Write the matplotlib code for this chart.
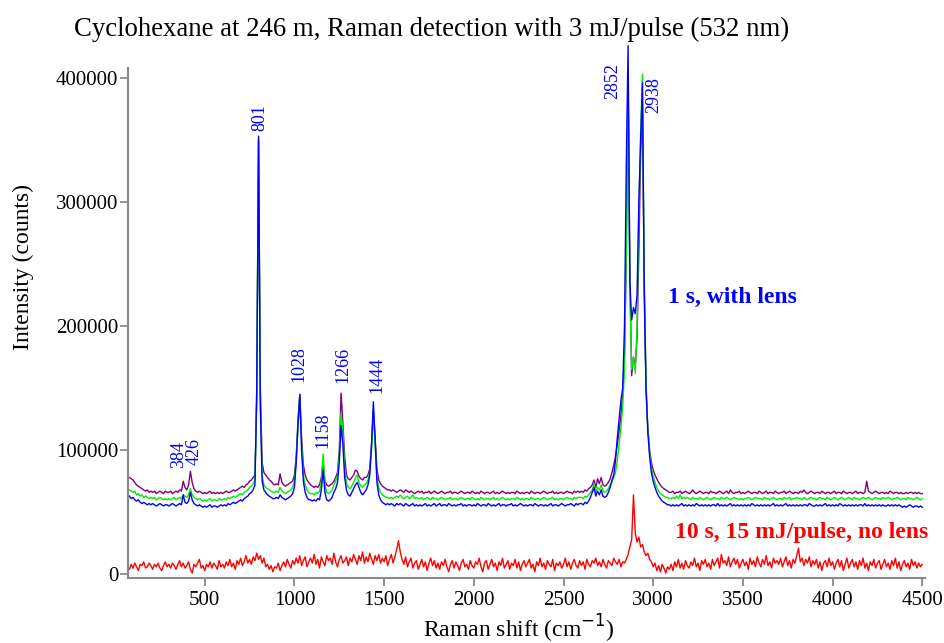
import matplotlib
matplotlib.use("Agg")
import matplotlib.pyplot as plt

plt.rcParams['font.family'] = ['Liberation Serif', 'DejaVu Serif']

# spectra in thousands of counts, rows keyed by start shift (cm-1), 10 cm-1 step
purple_rows = {
    80: [78, 77],
    100: [76, 74, 72, 71, 70, 69, 68, 67, 68, 66],
    200: [67, 66, 67, 65, 66, 67, 66, 65, 67, 66],
    300: [66, 67, 65, 66, 67, 66, 68, 67, 75, 70],
    400: [68, 72, 83, 74, 69, 67, 66, 67, 66, 65],
    500: [66, 65, 66, 67, 65, 66, 65, 66, 65, 66],
    600: [65, 66, 67, 66, 66, 67, 68, 67, 68, 69],
    700: [70, 71, 70, 72, 73, 75, 76, 78, 80, 140],
    800: [350, 150, 90, 82, 80, 78, 76, 75, 73, 72],
    900: [73, 72, 81, 74, 72, 71, 72, 73, 74, 75],
    1000: [80, 95, 125, 145, 110, 88, 80, 76, 74, 72],
    1100: [71, 70, 71, 70, 72, 78, 91, 75, 72, 71],
    1200: [72, 73, 75, 78, 82, 100, 146, 122, 95, 80],
    1300: [77, 76, 78, 80, 84, 83, 79, 77, 76, 78],
    1400: [78, 80, 85, 105, 132, 110, 85, 76, 73, 71],
    1500: [70, 69, 68, 68, 67, 68, 67, 66, 67, 68],
    1600: [67, 66, 68, 67, 66, 67, 66, 65, 66, 67],
    1700: [66, 67, 65, 66, 66, 67, 65, 66, 67, 66],
    1800: [65, 66, 67, 66, 65, 66, 66, 67, 65, 66],
    1900: [66, 65, 66, 67, 66, 65, 66, 66, 65, 67],
    2000: [66, 65, 66, 65, 67, 66, 65, 66, 66, 65],
    2100: [66, 67, 65, 66, 65, 66, 67, 66, 65, 66],
    2200: [65, 66, 66, 65, 67, 66, 65, 66, 65, 66],
    2300: [66, 65, 67, 66, 65, 66, 66, 65, 66, 67],
    2400: [66, 65, 66, 66, 67, 65, 66, 65, 66, 66],
    2500: [65, 66, 67, 66, 66, 65, 67, 66, 67, 66],
    2600: [67, 66, 68, 67, 69, 70, 72, 76, 70, 77],
    2700: [73, 78, 72, 71, 72, 74, 77, 82, 88, 95],
    2800: [105, 115, 128, 145, 175, 260, 400, 240, 160, 175],
    2900: [168, 190, 260, 340, 379, 230, 150, 118, 100, 90],
    3000: [84, 80, 77, 74, 72, 70, 69, 68, 67, 66],
    3100: [66, 67, 65, 66, 66, 67, 65, 66, 67, 66],
    3200: [65, 66, 68, 66, 65, 66, 67, 66, 65, 66],
    3300: [66, 65, 67, 66, 66, 65, 66, 67, 66, 65],
    3400: [66, 67, 65, 68, 66, 65, 66, 66, 67, 65],
    3500: [66, 65, 66, 67, 66, 65, 66, 66, 65, 67],
    3600: [66, 65, 66, 67, 65, 66, 66, 65, 67, 66],
    3700: [65, 66, 66, 67, 65, 66, 67, 66, 65, 66],
    3800: [66, 65, 67, 66, 68, 66, 65, 66, 67, 66],
    3900: [65, 66, 66, 65, 67, 66, 65, 66, 66, 65],
    4000: [66, 67, 65, 66, 66, 65, 67, 66, 65, 66],
    4100: [66, 65, 66, 67, 65, 66, 66, 65, 66, 75],
    4200: [67, 66, 65, 66, 67, 66, 65, 66, 66, 65],
    4300: [66, 65, 67, 66, 65, 66, 66, 65, 66, 65],
    4400: [65, 66, 65, 66, 66, 65, 66, 65, 66, 65, 65],
}

green_rows = {
    80: [68, 67],
    100: [66, 67, 64, 65, 63, 64, 62, 63, 62, 61],
    200: [62, 61, 62, 60, 61, 62, 61, 60, 61, 60],
    300: [61, 60, 61, 62, 60, 61, 62, 61, 64, 63],
    400: [62, 64, 69, 64, 62, 61, 60, 61, 60, 59],
    500: [60, 59, 60, 61, 59, 60, 60, 59, 61, 60],
    600: [60, 61, 60, 62, 61, 62, 63, 62, 63, 64],
    700: [65, 64, 66, 67, 68, 70, 71, 73, 76, 150],
    800: [352, 140, 80, 72, 70, 69, 68, 67, 66, 66],
    900: [67, 66, 70, 67, 66, 65, 66, 67, 68, 70],
    1000: [75, 92, 120, 142, 105, 80, 72, 68, 66, 65],
    1100: [65, 64, 66, 65, 67, 75, 97, 72, 66, 65],
    1200: [66, 68, 72, 75, 80, 95, 130, 115, 85, 74],
    1300: [70, 69, 71, 74, 78, 80, 74, 71, 70, 72],
    1400: [73, 76, 82, 100, 130, 105, 78, 70, 66, 64],
    1500: [63, 62, 62, 61, 62, 61, 62, 63, 62, 64],
    1600: [62, 61, 62, 63, 61, 62, 64, 61, 62, 61],
    1700: [61, 62, 60, 61, 62, 61, 60, 62, 61, 61],
    1800: [60, 61, 62, 61, 60, 61, 61, 62, 60, 61],
    1900: [61, 60, 61, 62, 61, 60, 61, 61, 60, 62],
    2000: [61, 60, 61, 60, 62, 61, 60, 61, 61, 60],
    2100: [61, 62, 60, 61, 60, 61, 62, 61, 60, 61],
    2200: [60, 61, 61, 60, 62, 61, 60, 61, 60, 61],
    2300: [61, 60, 62, 61, 60, 61, 61, 60, 61, 62],
    2400: [61, 60, 61, 61, 62, 60, 61, 60, 61, 61],
    2500: [60, 61, 62, 61, 61, 60, 62, 61, 62, 62],
    2600: [62, 61, 63, 62, 64, 66, 68, 73, 66, 70],
    2700: [68, 72, 67, 66, 67, 69, 72, 74, 78, 82],
    2800: [92, 105, 118, 135, 165, 260, 406, 230, 165, 175],
    2900: [162, 200, 290, 356, 403, 240, 155, 118, 98, 86],
    3000: [79, 74, 70, 67, 65, 64, 63, 62, 62, 61],
    3100: [61, 62, 61, 63, 61, 64, 61, 62, 61, 62],
    3200: [61, 60, 62, 61, 61, 60, 62, 61, 60, 61],
    3300: [62, 61, 60, 61, 62, 61, 61, 60, 62, 61],
    3400: [61, 62, 61, 60, 61, 62, 61, 61, 60, 61],
    3500: [60, 61, 61, 62, 61, 60, 61, 62, 61, 61],
    3600: [61, 60, 62, 61, 61, 60, 61, 62, 61, 60],
    3700: [61, 61, 60, 62, 61, 61, 62, 60, 61, 61],
    3800: [62, 61, 61, 60, 62, 61, 60, 61, 62, 61],
    3900: [61, 60, 61, 62, 61, 61, 60, 62, 61, 60],
    4000: [61, 62, 61, 60, 61, 62, 61, 60, 61, 62],
    4100: [61, 60, 62, 61, 61, 60, 61, 62, 61, 61],
    4200: [62, 61, 60, 61, 62, 61, 61, 60, 62, 61],
    4300: [61, 62, 61, 60, 61, 61, 62, 61, 60, 61],
    4400: [61, 60, 62, 61, 61, 60, 61, 62, 61, 60, 61],
}

blue_rows = {
    80: [63, 61],
    100: [62, 60, 59, 60, 58, 57, 58, 57, 56, 57],
    200: [56, 57, 56, 55, 56, 57, 56, 55, 56, 56],
    300: [55, 56, 57, 56, 55, 56, 57, 56, 64, 58],
    400: [57, 59, 66, 60, 57, 56, 55, 56, 55, 54],
    500: [55, 54, 55, 56, 54, 55, 55, 54, 55, 56],
    600: [55, 56, 55, 57, 56, 57, 58, 57, 58, 59],
    700: [60, 59, 61, 62, 63, 65, 66, 68, 72, 150],
    800: [353, 135, 75, 68, 66, 64, 63, 62, 61, 61],
    900: [62, 61, 64, 62, 61, 60, 61, 62, 63, 65],
    1000: [70, 90, 120, 145, 100, 75, 66, 62, 60, 60],
    1100: [59, 60, 59, 61, 60, 68, 84, 66, 60, 59],
    1200: [60, 62, 66, 69, 74, 90, 120, 105, 78, 68],
    1300: [64, 63, 66, 69, 72, 74, 70, 66, 64, 66],
    1400: [68, 72, 80, 105, 139, 108, 74, 64, 60, 58],
    1500: [57, 56, 57, 56, 57, 56, 55, 57, 56, 57],
    1600: [56, 55, 57, 56, 55, 56, 57, 55, 56, 55],
    1700: [56, 55, 56, 57, 55, 56, 55, 56, 57, 55],
    1800: [56, 57, 55, 56, 56, 55, 57, 56, 55, 56],
    1900: [55, 56, 56, 57, 55, 56, 55, 56, 56, 55],
    2000: [56, 55, 57, 56, 55, 56, 56, 55, 57, 56],
    2100: [55, 56, 55, 56, 57, 55, 56, 56, 55, 56],
    2200: [56, 57, 55, 56, 55, 56, 57, 56, 55, 56],
    2300: [55, 56, 56, 55, 57, 56, 55, 56, 56, 55],
    2400: [56, 55, 56, 57, 55, 56, 56, 55, 56, 57],
    2500: [56, 55, 56, 56, 57, 56, 55, 57, 56, 57],
    2600: [57, 56, 58, 57, 59, 62, 66, 70, 63, 67],
    2700: [64, 68, 63, 62, 63, 66, 70, 76, 80, 92],
    2800: [110, 125, 140, 150, 200, 330, 426, 235, 205, 215],
    2900: [210, 225, 300, 350, 396, 230, 150, 115, 95, 82],
    3000: [75, 70, 66, 63, 61, 59, 58, 57, 56, 56],
    3100: [55, 56, 55, 56, 55, 56, 57, 55, 56, 55],
    3200: [56, 55, 56, 55, 57, 56, 55, 56, 55, 56],
    3300: [55, 56, 55, 56, 56, 55, 57, 55, 56, 55],
    3400: [56, 55, 56, 57, 55, 56, 55, 56, 55, 56],
    3500: [55, 56, 55, 56, 55, 57, 56, 55, 56, 55],
    3600: [56, 55, 56, 55, 56, 55, 56, 57, 55, 56],
    3700: [55, 56, 55, 56, 57, 55, 56, 55, 56, 55],
    3800: [56, 55, 56, 55, 56, 56, 55, 57, 56, 55],
    3900: [55, 56, 55, 56, 55, 56, 57, 55, 56, 55],
    4000: [56, 55, 56, 55, 57, 56, 55, 56, 55, 56],
    4100: [55, 56, 55, 56, 55, 56, 56, 55, 57, 55],
    4200: [56, 55, 56, 55, 56, 55, 56, 55, 56, 55],
    4300: [55, 56, 55, 56, 55, 56, 55, 56, 55, 54],
    4400: [55, 54, 55, 56, 55, 54, 55, 55, 54, 55, 54],
}

red_rows = {
    80: [4, 8],
    100: [5, 9, 6, 3, 8, 7, 10, 5, 6, 9],
    200: [7, 4, 8, 6, 9, 5, 3, 7, 10, 6],
    300: [8, 5, 9, 7, 4, 8, 11, 6, 9, 5],
    400: [7, 10, 4, 1, 8, 6, 9, 12, 5, 7],
    500: [3, 8, 6, 10, 5, 9, 7, 4, 11, 6],
    600: [8, 5, 10, 7, 12, 6, 9, 4, 11, 8],
    700: [13, 7, 10, 15, 9, 12, 8, 14, 11, 17],
    800: [12, 15, 9, 13, 6, 8, 4, 7, 2, 6],
    900: [5, 9, 3, 7, 10, 6, 12, 8, 5, 11],
    1000: [8, 13, 9, 15, 7, 11, 14, 6, 10, 13],
    1100: [9, 16, 8, 12, 5, 14, 10, 7, 15, 11],
    1200: [13, 8, 17, 10, 6, 12, 15, 9, 11, 14],
    1300: [7, 13, 10, 16, 12, 8, 15, 11, 18, 9],
    1400: [14, 10, 17, 12, 8, 15, 11, 16, 9, 13],
    1500: [10, 15, 7, 12, 16, 9, 14, 20, 27, 18],
    1600: [12, 8, 14, 6, 10, 13, 5, 9, 11, 4],
    1700: [8, 12, 6, 10, 3, 9, 13, 7, 11, 5],
    1800: [9, 4, 10, 7, 12, 6, 2, 8, 11, 5],
    1900: [10, 7, 3, 9, 12, 6, 8, 4, 11, 7],
    2000: [5, 10, 8, 13, 6, 2, 9, 11, 4, 8],
    2100: [12, 6, 9, 3, 10, 7, 13, 5, 8, 11],
    2200: [4, 9, 7, 12, 5, 10, 3, 8, 11, 6],
    2300: [9, 12, 5, 8, 2, 10, 7, 13, 6, 9],
    2400: [4, 11, 8, 6, 12, 3, 9, 7, 10, 5],
    2500: [8, 13, 6, 10, 4, 9, 12, 7, 5, 11],
    2600: [7, 10, 4, 12, 8, 6, 11, 9, 13, 7],
    2700: [10, 6, 12, 8, 5, 11, 9, 7, 13, 10],
    2800: [8, 12, 6, 10, 9, 12, 16, 22, 28, 64],
    2900: [33, 26, 30, 22, 24, 18, 15, 17, 12, 10],
    3000: [6, 9, 3, 7, 2, 8, 5, 1, 6, 4],
    3100: [8, 3, 10, 6, 12, 5, 9, 4, 11, 7],
    3200: [5, 10, 7, 13, 6, 9, 3, 11, 8, 12],
    3300: [6, 9, 4, 12, 7, 10, 13, 5, 16, 9],
    3400: [11, 7, 14, 6, 10, 13, 8, 12, 5, 9],
    3500: [12, 7, 10, 4, 13, 8, 11, 6, 14, 9],
    3600: [6, 12, 8, 15, 7, 10, 5, 13, 9, 11],
    3700: [8, 13, 6, 10, 14, 7, 11, 5, 12, 9],
    3800: [15, 21, 10, 13, 7, 12, 9, 14, 6, 11],
    3900: [8, 12, 5, 10, 3, 9, 11, 6, 13, 7],
    4000: [10, 4, 9, 12, 6, 11, 3, 8, 13, 5],
    4100: [9, 12, 6, 10, 4, 11, 7, 13, 5, 9],
    4200: [3, 10, 7, 12, 5, 9, 11, 4, 8, 12],
    4300: [6, 9, 4, 11, 7, 13, 5, 10, 3, 8],
    4400: [11, 6, 9, 4, 12, 7, 10, 5, 9, 6, 8],
}

# peak labels: (text, x, y of label bottom)
peak_labels = [
    ("384", 353, 86000), ("426", 440, 88000), ("801", 805, 357000),
    ("1028", 1026, 155000), ("1158", 1156, 102000), ("1266", 1272, 154000),
    ("1444", 1459, 146000), ("2852", 2776, 383000), ("2938", 3003, 372000),
]


def unpack(rows):
    xs, ys = [], []
    for start, vals in rows.items():
        for j, v in enumerate(vals):
            xs.append(start + 10 * j)
            ys.append(v * 1000)
    return xs, ys


fig = plt.figure(figsize=(9.45, 6.43), dpi=100)
ax = fig.add_axes([0.1354, 0.1011, 0.8434, 0.7931])

for rows, col in [(purple_rows, "#800080"), (green_rows, "#00ee00"),
                  (blue_rows, "#0000ff"), (red_rows, "#ff0000")]:
    x, y = unpack(rows)
    ax.plot(x, y, color=col, lw=1.0, clip_on=False)

for txt, px, py in peak_labels:
    ax.text(px, py, txt, rotation=90, ha="center", va="bottom",
            color="#0000ff", fontsize=13)

ax.text(3085, 223000, "1 s, with lens", color="#0000ff", fontsize=17,
        fontweight="bold", va="center", ha="left")
ax.text(3124, 33500, "10 s, 15 mJ/pulse, no lens", color="#ff0000", fontsize=17,
        fontweight="bold", va="center", ha="left")

ax.set_xlim(72, 4515)
ax.set_ylim(-3000, 408000)
ax.set_xticks([500, 1000, 1500, 2000, 2500, 3000, 3500, 4000, 4500])
ax.set_yticks([0, 100000, 200000, 300000, 400000])
ax.tick_params(labelsize=15, length=6, width=1.3, color="#888888")
ax.tick_params(axis="y", pad=1)
for s in ["top", "right"]:
    ax.spines[s].set_visible(False)
for s in ["left", "bottom"]:
    ax.spines[s].set_color("#888888")
    ax.spines[s].set_linewidth(1.5)

ax.set_xlabel("Raman shift (cm$^{-1}$)", fontsize=17)
ax.set_ylabel("Intensity (counts)", fontsize=17)
ax.xaxis.set_label_coords(0.49, -0.068)
ax.yaxis.set_label_coords(-0.118, 0.61)

fig.text(0.457, 0.955, "Cyclohexane at 246 m, Raman detection with 3 mJ/pulse (532 nm)",
         ha="center", va="center", fontsize=19.3)

plt.savefig("out.png", dpi=100)
